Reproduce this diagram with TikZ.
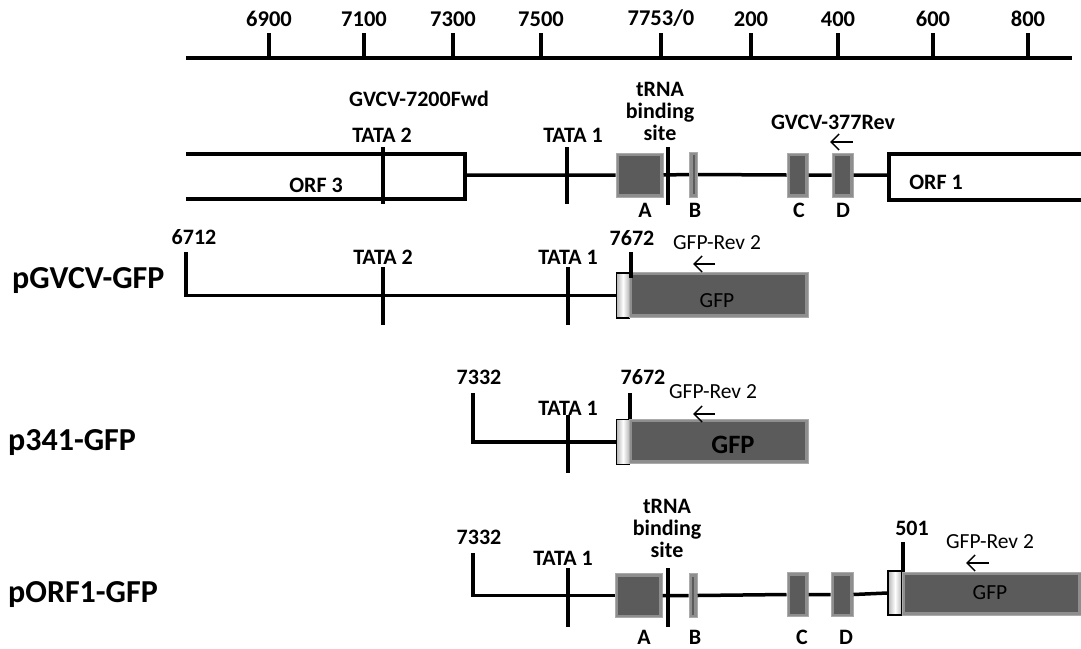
\documentclass[tikz,border=0pt]{standalone}
\usepackage{fontspec}
\setmainfont{Carlito}
\usepackage{tikz}
\usetikzlibrary{positioning,arrows.meta,calc}
\definecolor{ExonDark}{HTML}{5B5B5B}
\definecolor{ExonRim}{HTML}{8E8E8E}
\definecolor{ExonEdge}{HTML}{ABABAB}
\definecolor{LinkerGrey}{HTML}{B5B5B5}

\begin{document}
\begin{tikzpicture}[x=1pt,y=-1pt,
 bb/.style={line width=3.5pt},
 bar/.style={fill=black,minimum width=3.8pt,inner sep=0pt,outer sep=0pt},
 lbl/.style={font=\bfseries\fontsize{22}{22}\selectfont,inner sep=0pt},
 prm/.style={font=\fontsize{21.5}{21.5}\selectfont,inner sep=0pt},
 rowname/.style={font=\bfseries\fontsize{32}{32}\selectfont,inner sep=0pt,anchor=west},
 exon/.style={fill=ExonRim,draw=ExonEdge,line width=1pt,inner sep=0pt,minimum height=44pt,
   path picture={\fill[ExonDark] ([shift={(3pt,-3pt)}]path picture bounding box.north west) rectangle ([shift={(-3pt,3pt)}]path picture bounding box.south east);}},
 linker/.style={draw=black,line width=1.5pt,inner sep=0pt,minimum width=13pt,minimum height=45pt,
   left color=LinkerGrey,right color=LinkerGrey,middle color=white},
 primer/.style={-{Straight Barb[length=8pt,width=16pt]},line width=1.5pt}]
\useasboundingbox (0,0) rectangle (1081,648);

% coordinate axis
\coordinate (axL) at (186,58);
\coordinate (axR) at (1072,58);
\draw[bb] (axL) -- (axR);
\foreach \x/\t [count=\i] in {269/6900,364/7100,453/7300,541/7500,661/{7753/0},751/200,838/400,933/600,1028/800}{
  \node[bar,minimum height=25pt,anchor=south] (ax\i) at (\x,58) {};
  \node[lbl,font=\bfseries\fontsize{22.5}{22.5}\selectfont,above=6pt of ax\i] {\t};
}

% genome
\draw[bb] (186,154) -- (465,154) -- (465,199) -- (186,199);
\draw[bb] (1081,154) -- (889,154) -- (889,200) -- (1081,200);
\coordinate (o3e) at (465,175);
\coordinate (o1w) at (889,175);
\node[lbl] (orf3) at (316,185) {ORF 3};
\node[lbl] (orf1) at (936,182) {ORF 1};
\node[exon,minimum width=47pt] (a1) at (639.5,175) {};
\node[exon,minimum width=8pt,minimum height=45pt] (b1) at (693.5,174.5) {};
\node[exon,minimum width=21pt] (c1) at (797.5,175) {};
\node[exon,minimum width=21pt] (d1) at (842.5,175) {};
\draw[bb] (o3e) -- (a1.west) (a1.east) -- (b1.west) (b1.east) -- (c1.west)
  (c1.east) -- (d1.west) (d1.east) -- (o1w);
\node[bar,minimum height=57pt] (t2g) at (383,175.5) {};
\node[bar,minimum height=57pt] (t1g) at (567,175.5) {};
\node[bar,minimum height=58pt] (trg) at (668,176) {};
\node[lbl] (fwd) at (419,99) {GVCV-7200Fwd};
\node[lbl] (t2gl) at (382,135) {TATA 2};
\node[lbl] (t1gl) at (573,135) {TATA 1};
\node[lbl,align=center] (trgl) at (660,111) {tRNA\\binding\\site};
\node[lbl] (rev) at (833,122) {GVCV-377Rev};
\coordinate (revs) at (853,142);
\coordinate (reve) at (830,142);
\draw[primer] (revs) -- (reve);
\node[lbl] at (645,210) {A};
\node[lbl] at (695,210) {B};
\node[lbl] at (799,210) {C};
\node[lbl] at (843,210) {D};

% pGVCV-GFP
\node[rowname] (r2) at (12,281) {pGVCV-GFP};
\coordinate (s2) at (186,252);
\node[lbl] at (194,237) {6712};
\node[linker] (lk2) at (623,295.5) {};
\node[exon,minimum width=179pt,minimum height=45pt] (g2) at (718.5,294.5) {};
\node[prm] at (717,301) {GFP};
\draw[bb] (s2) |- (lk2.west);
\node[bar,minimum height=58pt] (t2b) at (383,296) {};
\node[bar,minimum height=58pt] (t1b) at (568,296) {};
\node[lbl] at (383,257) {TATA 2};
\node[lbl] at (568,257) {TATA 1};
\node[bar,minimum height=26pt] (j2) at (631,265) {};
\node[lbl] at (632,238) {7672};
\node[prm] at (717,243) {GFP-Rev 2};
\coordinate (p2s) at (715,264);
\coordinate (p2e) at (693,264);
\draw[primer] (p2s) -- (p2e);

% p341-GFP
\node[rowname] (r3) at (8,443) {p341-GFP};
\coordinate (s3) at (473,393);
\node[lbl] at (479,377) {7332};
\node[linker] (lk3) at (623,442) {};
\node[exon,minimum width=179pt] (g3) at (718.5,441) {};
\node[lbl,font=\bfseries\fontsize{26.5}{26.5}\selectfont] at (733,445) {GFP};
\draw[bb] (s3) |- (lk3.west);
\node[bar,minimum height=58pt] (t1c) at (568,444) {};
\node[lbl] at (568,408) {TATA 1};
\node[bar,minimum height=26pt] (j3) at (630,406) {};
\node[lbl] at (643,377) {7672};
\node[prm] at (713,392) {GFP-Rev 2};
\coordinate (p3s) at (715,414);
\coordinate (p3e) at (693,414);
\draw[primer] (p3s) -- (p3e);

% pORF1-GFP
\node[rowname] (r4) at (8,595) {pORF1-GFP};
\coordinate (s4) at (473,553);
\node[lbl] at (479,537) {7332};
\node[exon,minimum width=47pt] (a4) at (638.5,595.5) {};
\node[exon,minimum width=8pt] (b4) at (693,595.5) {};
\node[exon,minimum width=21pt] (c4) at (797.5,594.5) {};
\node[exon,minimum width=22pt] (d4) at (842,594.5) {};
\node[linker,minimum width=14pt,minimum height=44pt] (lk4) at (895,593) {};
\node[exon,minimum width=179pt,minimum height=43pt] (g4) at (991.5,593.5) {};
\node[prm] at (990,593) {GFP};
\draw[bb] (s4) |- (a4.west);
\draw[bb] (a4.east) -- (b4.west) (b4.east) -- (c4.west) (c4.east) -- (d4.west)
  (d4.east) -- (lk4.west);
\node[bar,minimum height=59pt] (t1d) at (568,597.5) {};
\node[bar,minimum height=59pt] (trd) at (668,597.5) {};
\node[lbl] at (563,558) {TATA 1};
\node[lbl,align=center] at (667,528) {tRNA\\binding\\site};
\node[bar,minimum height=30pt] (j4) at (903,557) {};
\node[lbl] at (912,528) {501};
\node[prm] at (990,542) {GFP-Rev 2};
\coordinate (p4s) at (989,563);
\coordinate (p4e) at (966,563);
\draw[primer] (p4s) -- (p4e);
\node[lbl] at (644,637) {A};
\node[lbl] at (695,637) {B};
\node[lbl] at (802,637) {C};
\node[lbl] at (846,637) {D};
\end{tikzpicture}
\end{document}
